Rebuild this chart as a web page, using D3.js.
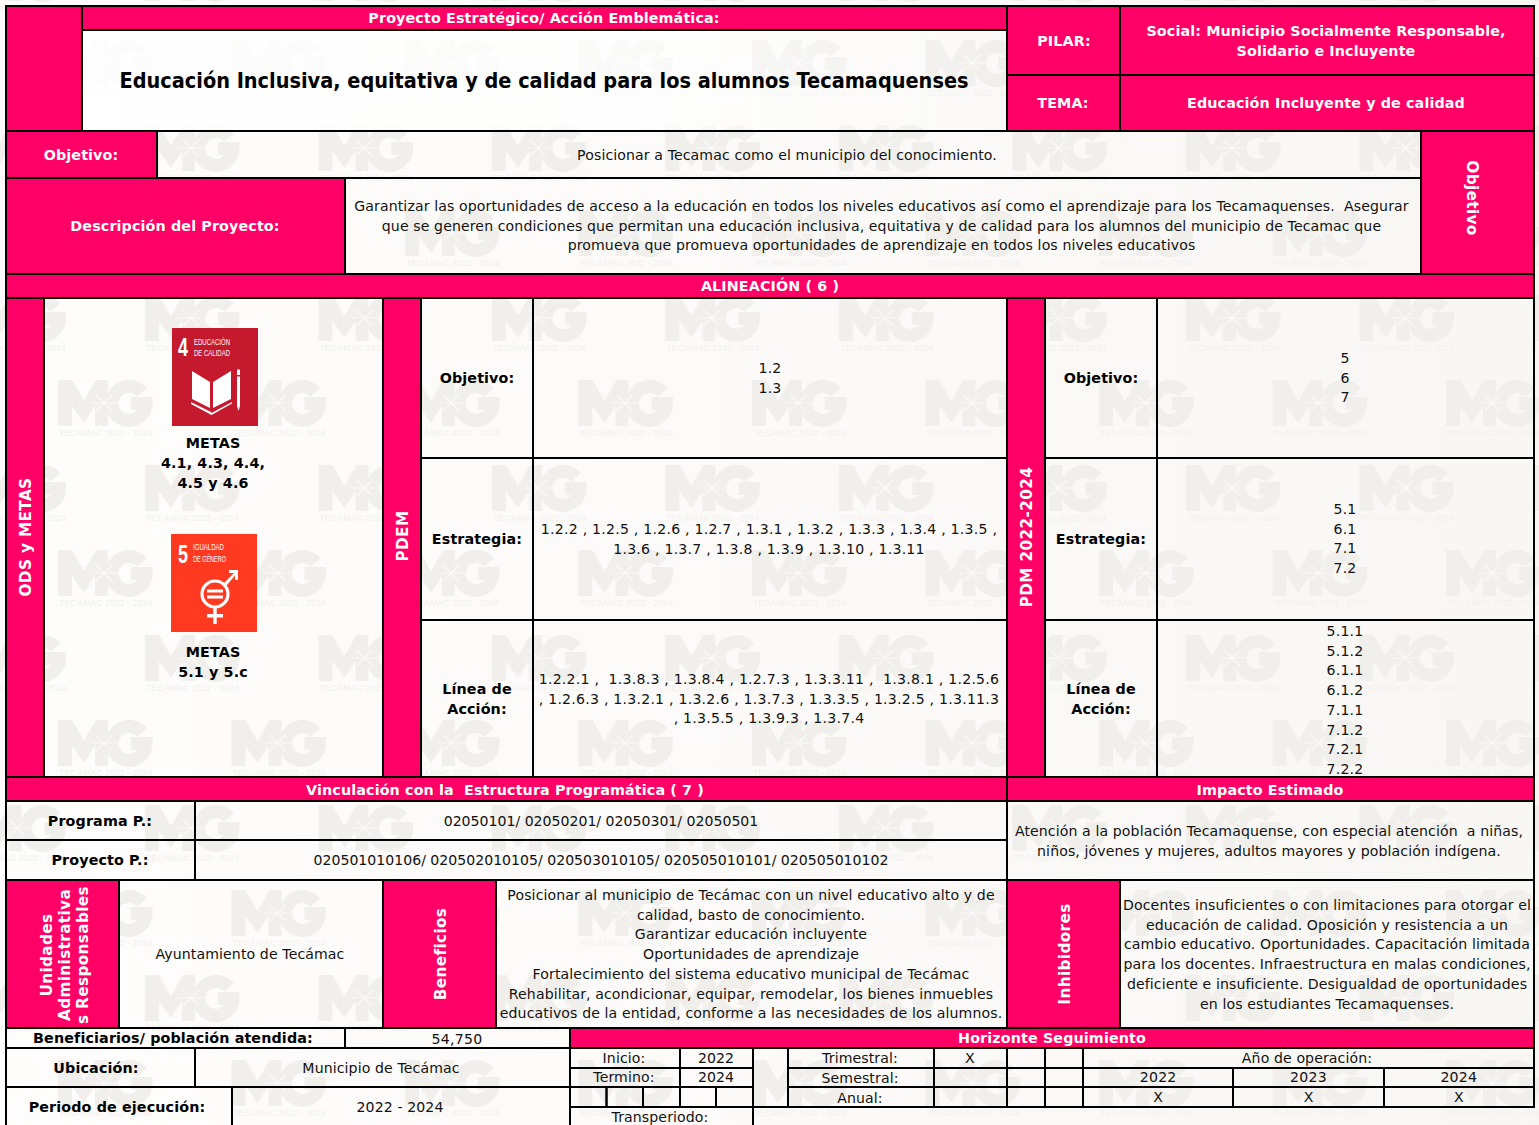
<!DOCTYPE html>
<html>
<head>
<meta charset="utf-8">
<title>Ficha de proyecto</title>
<script src="https://cdn.jsdelivr.net/npm/d3@7"></script>
<style>
  html, body { margin: 0; padding: 0; background: #fbfaf8; overflow: hidden; }
  svg { display: block; font-family: "DejaVu Sans", sans-serif; }
</style>
</head>
<body>
<div id="chart"></div>
<script>
// ---- contents of the form ----
const headerTitle = ["Proyecto Estratégico/ Acción Emblemática:"];
const projectName = ["Educación Inclusiva, equitativa y de calidad para los alumnos Tecamaquenses"];
const pilarLabel = ["PILAR:"];
const pilarText = ["Social: Municipio Socialmente Responsable,", "Solidario e Incluyente"];
const temaLabel = ["TEMA:"];
const temaText = ["Educación Incluyente y de calidad"];
const objetivoLabel = ["Objetivo:"];
const objetivoText = ["Posicionar a Tecamac como el municipio del conocimiento."];
const descLabel = ["Descripción del Proyecto:"];
const descText = [
  "Garantizar las oportunidades de acceso a la educación en todos los niveles educativos así como el aprendizaje para los Tecamaquenses.  Asegurar",
  "que se generen condiciones que permitan una educación inclusiva, equitativa y de calidad para los alumnos del municipio de Tecamac que",
  "promueva que promueva oportunidades de aprendizaje en todos los niveles educativos"
];
const alineacion = ["ALINEACIÓN ( 6 )"];
const metas4 = ["METAS", "4.1, 4.3, 4.4,", "4.5 y 4.6"];
const metas5 = ["METAS", "5.1 y 5.c"];
const estrategiaLabel = ["Estrategia:"];
const lineaLabel = ["Línea de", "Acción:"];
const pdemObjetivo = ["1.2", "1.3"];
const pdemEstrategia = [
  "1.2.2 , 1.2.5 , 1.2.6 , 1.2.7 , 1.3.1 , 1.3.2 , 1.3.3 , 1.3.4 , 1.3.5 ,",
  "1.3.6 , 1.3.7 , 1.3.8 , 1.3.9 , 1.3.10 , 1.3.11"
];
const pdemLinea = [
  "1.2.2.1 ,  1.3.8.3 , 1.3.8.4 , 1.2.7.3 , 1.3.3.11 ,  1.3.8.1 , 1.2.5.6",
  ", 1.2.6.3 , 1.3.2.1 , 1.3.2.6 , 1.3.7.3 , 1.3.3.5 , 1.3.2.5 , 1.3.11.3",
  ", 1.3.5.5 , 1.3.9.3 , 1.3.7.4"
];
const pdmObjetivo = ["5", "6", "7"];
const pdmEstrategia = ["5.1", "6.1", "7.1", "7.2"];
const pdmLinea = ["5.1.1", "5.1.2", "6.1.1", "6.1.2", "7.1.1", "7.1.2", "7.2.1", "7.2.2"];
const vinculacion = ["Vinculación con la  Estructura Programática ( 7 )"];
const impactoTitle = ["Impacto Estimado"];
const impactoText = [
  "Atención a la población Tecamaquense, con especial atención  a niñas,",
  "niños, jóvenes y mujeres, adultos mayores y población indígena."
];
const programaLabel = ["Programa P.:"];
const programaText = ["02050101/ 02050201/ 02050301/ 02050501"];
const proyectoLabel = ["Proyecto P.:"];
const proyectoText = ["020501010106/ 020502010105/ 020503010105/ 020505010101/ 020505010102"];
const responsables = ["Ayuntamiento de Tecámac"];
const beneficiosText = [
  "Posicionar al municipio de Tecámac con un nivel educativo alto y de",
  "calidad, basto de conocimiento.",
  "Garantizar educación incluyente",
  "Oportunidades de aprendizaje",
  "Fortalecimiento del sistema educativo municipal de Tecámac",
  "Rehabilitar, acondicionar, equipar, remodelar, los bienes inmuebles",
  "educativos de la entidad, conforme a las necesidades de los alumnos."
];
const inhibidoresText = [
  "Docentes insuficientes o con limitaciones para otorgar el",
  "educación de calidad. Oposición y resistencia a un",
  "cambio educativo. Oportunidades. Capacitación limitada",
  "para los docentes. Infraestructura en malas condiciones,",
  "deficiente e insuficiente. Desigualdad de oportunidades",
  "en los estudiantes Tecamaquenses."
];
const beneficiariosLabel = ["Beneficiarios/ población atendida:"];
const beneficiariosValue = ["54,750"];
const ubicacionLabel = ["Ubicación:"];
const ubicacionText = ["Municipio de Tecámac"];
const periodoLabel = ["Periodo de ejecución:"];
const periodoText = ["2022 - 2024"];
const horizonte = ["Horizonte Seguimiento"];
const operacionYears = ["2022", "2023", "2024"];
const operacionMarks = ["X", "X", "X"];

const width = 1539, height = 1125;
const pink = "#ff0066";

// grid lines of the form
const X = {
  l: 6, a: 82, objL: 157, unid: 119, prog: 195, per: 232, ods: 44, desc: 345, bene: 570,
  m: 383, pdem: 421, ben: 496, lab: 533, ini1: 606.5, ini2: 643, ini3: 680, ini4: 716, ini5: 753,
  tr0: 788, tr1: 934, c: 1007, pdm: 1045, hz: 1083, pil: 1120, lab2: 1157, y1: 1233, y2: 1384, obj: 1421, r: 1534
};
const Y = {
  t: 6, h: 30, title: 131, obj: 178, desc: 274, ali: 298, r1: 458, r2: 620, sec: 777, vin: 801, prg: 840, pry: 880,
  uni: 1028, b: 1048, b1: 1068, b2: 1087, b3: 1107, end: 1130
};

const svg = d3.select("#chart").append("svg").attr("width", width).attr("height", height);
const defs = svg.append("defs");

// paper: near-white on the left, warmer to the right
const paper = defs.append("linearGradient").attr("id", "paper");
paper.append("stop").attr("offset", "0%").attr("stop-color", "#fefdfc");
paper.append("stop").attr("offset", "55%").attr("stop-color", "#fbfaf8");
paper.append("stop").attr("offset", "100%").attr("stop-color", "#f8f7f4");
svg.append("rect").attr("width", width).attr("height", height).attr("fill", "url(#paper)");

// watermark tile: blocky M and G that touch, a small star where they meet, the caption below
const wmInk = "#f0efec";
const wm = defs.append("pattern").attr("id", "wm").attr("patternUnits", "userSpaceOnUse")
  .attr("x", 58).attr("y", 40).attr("width", 173.5).attr("height", 170);
[[0, 0], [87, 85], [-86.5, 85]].forEach(([dx, dy]) => {
  const g = wm.append("g").attr("transform", `translate(${dx},${dy})`);
  g.append("path").attr("fill", wmInk)
    .attr("d", "M0 0H14L26 21L38 0H50V46H37V26L26 43L14 26V46H0Z");
  g.append("path").attr("fill", "none").attr("stroke", wmInk).attr("stroke-width", 13)
    .attr("d", "M84 12.5A17 17 0 1 0 88 23.5H73");
  g.append("path").attr("fill", "none").attr("stroke", "#fbfaf8").attr("stroke-width", 1.2)
    .attr("d", "M33 23H60M38 15L54 31M38 31L54 15");
  g.append("text").attr("x", 47.5).attr("y", 56).attr("text-anchor", "middle").attr("fill", "#f3f2ef")
    .attr("font-family", "Liberation Sans").attr("font-weight", 700).attr("font-size", 8.5)
    .attr("textLength", 93).attr("lengthAdjust", "spacingAndGlyphs").text("TECÁMAC 2022 - 2024");
});
svg.append("rect").attr("width", width).attr("height", height).attr("fill", "url(#wm)");

// [x0, x1, y0, y1, filled]
const cells = [
  [X.l, X.a, Y.t, Y.title, 1], [X.a, X.c, Y.t, Y.h, 1], [X.a, X.c, Y.h, Y.title, 0],
  [X.c, X.pil, Y.t, 75, 1], [X.pil, X.r, Y.t, 75, 1], [X.c, X.pil, 75, Y.title, 1], [X.pil, X.r, 75, Y.title, 1],
  [X.l, X.objL, Y.title, Y.obj, 1], [X.objL, X.obj, Y.title, Y.obj, 0], [X.obj, X.r, Y.title, Y.desc, 1],
  [X.l, X.desc, Y.obj, Y.desc, 1], [X.desc, X.obj, Y.obj, Y.desc, 0],
  [X.l, X.r, Y.desc, Y.ali, 1],
  [X.l, X.ods, Y.ali, Y.sec, 1], [X.ods, X.m, Y.ali, Y.sec, 0], [X.m, X.pdem, Y.ali, Y.sec, 1],
  [X.pdem, X.lab, Y.ali, Y.r1, 0], [X.lab, X.c, Y.ali, Y.r1, 0],
  [X.pdem, X.lab, Y.r1, Y.r2, 0], [X.lab, X.c, Y.r1, Y.r2, 0],
  [X.pdem, X.lab, Y.r2, Y.sec, 0], [X.lab, X.c, Y.r2, Y.sec, 0],
  [X.c, X.pdm, Y.ali, Y.sec, 1],
  [X.pdm, X.lab2, Y.ali, Y.r1, 0], [X.lab2, X.r, Y.ali, Y.r1, 0],
  [X.pdm, X.lab2, Y.r1, Y.r2, 0], [X.lab2, X.r, Y.r1, Y.r2, 0],
  [X.pdm, X.lab2, Y.r2, Y.sec, 0], [X.lab2, X.r, Y.r2, Y.sec, 0],
  [X.l, X.c, Y.sec, Y.vin, 1], [X.c, X.r, Y.sec, Y.vin, 1],
  [X.l, X.prog, Y.vin, Y.prg, 0], [X.prog, X.c, Y.vin, Y.prg, 0],
  [X.l, X.prog, Y.prg, Y.pry, 0], [X.prog, X.c, Y.prg, Y.pry, 0],
  [X.c, X.r, Y.vin, Y.pry, 0],
  [X.l, X.unid, Y.pry, Y.uni, 1], [X.unid, X.m, Y.pry, Y.uni, 0], [X.m, X.ben, Y.pry, Y.uni, 1], [X.ben, X.c, Y.pry, Y.uni, 0],
  [X.c, X.pil, Y.pry, Y.uni, 1], [X.pil, X.r, Y.pry, Y.uni, 0],
  [X.l, X.desc, Y.uni, Y.b, 0], [X.desc, X.bene, Y.uni, Y.b, 0], [X.bene, X.r, Y.uni, Y.b, 1],
  [X.l, X.prog, Y.b, Y.b2, 0], [X.prog, X.bene, Y.b, Y.b2, 0],
  [X.l, X.per, Y.b2, Y.end, 0], [X.per, X.bene, Y.b2, Y.end, 0],
  [X.bene, X.ini3, Y.b, Y.b1, 0], [X.ini3, X.ini5, Y.b, Y.b1, 0],
  [X.bene, X.ini3, Y.b1, Y.b2, 0], [X.ini3, X.ini5, Y.b1, Y.b2, 0],
  [X.bene, X.ini1, Y.b2, Y.b3, 0], [X.ini1, X.ini2, Y.b2, Y.b3, 0], [X.ini2, X.ini3, Y.b2, Y.b3, 0],
  [X.ini3, X.ini4, Y.b2, Y.b3, 0], [X.ini4, X.ini5, Y.b2, Y.b3, 0],
  [X.bene, X.ini5, Y.b3, Y.end, 0], [X.ini5, X.tr0, Y.b, Y.b3, 0],
  [X.tr0, X.tr1, Y.b, Y.b1, 0], [X.tr1, X.c, Y.b, Y.b1, 0], [X.c, X.pdm, Y.b, Y.b1, 0], [X.pdm, X.hz, Y.b, Y.b1, 0],
  [X.tr0, X.tr1, Y.b1, Y.b2, 0], [X.tr1, X.c, Y.b1, Y.b2, 0], [X.c, X.pdm, Y.b1, Y.b2, 0], [X.pdm, X.hz, Y.b1, Y.b2, 0],
  [X.tr0, X.tr1, Y.b2, Y.b3, 0], [X.tr1, X.c, Y.b2, Y.b3, 0], [X.c, X.pdm, Y.b2, Y.b3, 0], [X.pdm, X.hz, Y.b2, Y.b3, 0],
  [X.hz, X.r, Y.b, Y.b1, 0],
  [X.hz, X.y1, Y.b1, Y.b2, 0], [X.y1, X.y2, Y.b1, Y.b2, 0], [X.y2, X.r, Y.b1, Y.b2, 0],
  [X.hz, X.y1, Y.b2, Y.b3, 0], [X.y1, X.y2, Y.b2, Y.b3, 0], [X.y2, X.r, Y.b2, Y.b3, 0]
];

// the title cell is close to pure white, fading out towards the right
const titleFade = defs.append("linearGradient").attr("id", "titleFade");
titleFade.append("stop").attr("offset", "0%").attr("stop-color", "#fff").attr("stop-opacity", 0.85);
titleFade.append("stop").attr("offset", "60%").attr("stop-color", "#fff").attr("stop-opacity", 0.7);
titleFade.append("stop").attr("offset", "100%").attr("stop-color", "#fff").attr("stop-opacity", 0);
svg.append("rect").attr("x", X.a).attr("y", Y.h).attr("width", X.c - X.a).attr("height", Y.title - Y.h).attr("fill", "url(#titleFade)");

svg.append("g").selectAll("rect").data(cells).join("rect")
  .attr("x", d => d[0]).attr("y", d => d[2])
  .attr("width", d => d[1] - d[0]).attr("height", d => d[3] - d[2])
  .attr("fill", d => d[4] ? pink : "none")
  .attr("stroke", "#000").attr("stroke-width", 2);

// block: lines, center x, first line center y, font size, bold, colour
const body = 14.1, strong = 14.3, lh = 19.7;
const blocks = [
  [headerTitle, 544, 18, strong, 1, "#fff"],
  [pilarLabel, 1064, 41, strong, 1, "#fff"],
  [pilarText, 1326, 31, strong, 1, "#fff"],
  [temaLabel, 1063, 103, strong, 1, "#fff"],
  [temaText, 1326, 103, strong, 1, "#fff"],
  [objetivoLabel, 81, 155, strong, 1, "#fff"],
  [objetivoText, 787, 155, body, 0, "#111"],
  [descLabel, 175, 226, strong, 1, "#fff"],
  [descText, 881.5, 206, body, 0, "#111"],
  [alineacion, 770, 286, strong, 1, "#fff"],
  [metas4, 213, 443, strong, 1, "#000"],
  [metas5, 213, 652, strong, 1, "#000"],
  [objetivoLabel, 477, 378, strong, 1, "#000"],
  [pdemObjetivo, 770, 368, body, 0, "#111"],
  [estrategiaLabel, 477, 539, strong, 1, "#000"],
  [pdemEstrategia, 769, 529, body, 0, "#111"],
  [lineaLabel, 477, 689, strong, 1, "#000"],
  [pdemLinea, 769, 679, body, 0, "#111"],
  [objetivoLabel, 1101, 378, strong, 1, "#000"],
  [pdmObjetivo, 1345, 358, body, 0, "#111"],
  [estrategiaLabel, 1101, 539, strong, 1, "#000"],
  [pdmEstrategia, 1345, 509, body, 0, "#111"],
  [lineaLabel, 1101, 689, strong, 1, "#000"],
  [pdmLinea, 1345, 631, body, 0, "#111"],
  [vinculacion, 505, 790, strong, 1, "#fff"],
  [impactoTitle, 1270, 790, strong, 1, "#fff"],
  [programaLabel, 100, 821, strong, 1, "#000"],
  [programaText, 601, 821, body, 0, "#111"],
  [proyectoLabel, 100, 860, strong, 1, "#000"],
  [proyectoText, 601, 860, body, 0, "#111"],
  [impactoText, 1269, 831, body, 0, "#111"],
  [responsables, 250, 954, body, 0, "#111"],
  [beneficiosText, 751, 895, body, 0, "#111"],
  [inhibidoresText, 1327, 905, body, 0, "#111"],
  [beneficiariosLabel, 173, 1038, strong, 1, "#000"],
  [beneficiariosValue, 457, 1039, body, 0, "#111"],
  [ubicacionLabel, 96, 1068, strong, 1, "#000"],
  [ubicacionText, 381, 1068, body, 0, "#111"],
  [periodoLabel, 117, 1107, strong, 1, "#000"],
  [periodoText, 400, 1107, body, 0, "#111"],
  [horizonte, 1052, 1038, strong, 1, "#fff"],
  [["Inicio:"], 624, 1058, body, 0, "#111"],
  [["2022"], 716, 1058, body, 0, "#111"],
  [["Termino:"], 624, 1077, body, 0, "#111"],
  [["2024"], 716, 1077, body, 0, "#111"],
  [["Transperiodo:"], 660, 1117, body, 0, "#111"],
  [["Trimestral:"], 860, 1058, body, 0, "#111"],
  [["X"], 970, 1058, body, 0, "#111"],
  [["Semestral:"], 860, 1078, body, 0, "#111"],
  [["Anual:"], 860, 1098, body, 0, "#111"],
  [["Año de operación:"], 1307, 1058, body, 0, "#111"]
];

// digit lists run wider in the reference than in DejaVu, the slash-separated codes do not
const tracking = (d, bold) => {
  if (bold) return 0.13;
  if (/^[\d/\s]+$/.test(d)) return 0;
  return /^[\d.,\s]+$/.test(d) ? 0.24 : 0.11;
};

const textLayer = svg.append("g").attr("text-anchor", "middle");
blocks.forEach(([lines, x, y, size, bold, color]) => {
  textLayer.selectAll(null).data(lines).enter().append("text")
    .attr("x", x).attr("y", (d, i) => y + i * lh + size * 0.36)
    .attr("font-size", size).attr("font-weight", bold ? 700 : 400).attr("fill", color)
    .attr("letter-spacing", d => tracking(d, bold))
    .style("white-space", "pre")
    .text(d => d);
});

// year columns at the bottom right
const yearX = d3.scaleBand().domain(operacionYears).range([X.hz, X.r]);
textLayer.selectAll(null).data(operacionYears).enter().append("text")
  .attr("x", d => yearX(d) + yearX.bandwidth() / 2).attr("y", 1077 + body * 0.36)
  .attr("font-size", body).attr("letter-spacing", 0.24).attr("fill", "#111").text(d => d);
textLayer.selectAll(null).data(operacionMarks).enter().append("text")
  .attr("x", (d, i) => yearX(operacionYears[i]) + yearX.bandwidth() / 2).attr("y", 1097 + body * 0.36)
  .attr("font-size", body).attr("fill", "#111").text(d => d);

// project title, squeezed to its measured width
textLayer.append("text").attr("x", 544).attr("y", 88).attr("font-size", 21.5).attr("font-weight", 700)
  .attr("textLength", 849).attr("lengthAdjust", "spacingAndGlyphs").text(projectName[0]);

// rotated headings: lines, center x of the first, center y, direction
const rotated = [
  [["ODS y METAS"], 25, 537, -90],
  [["PDEM"], 402, 536, -90],
  [["PDM 2022-2024"], 1026, 537, -90],
  [["Objetivo"], 1473, 198, 90],
  [["Unidades", "Administrativa", "s Responsables"], 46, 955, -90],
  [["Beneficios"], 440, 954, -90],
  [["Inhibidores"], 1064, 954, -90]
];
const rotSize = 15.3;
rotated.forEach(([lines, x, y, angle]) => {
  textLayer.selectAll(null).data(lines).enter().append("text")
    .attr("transform", (d, i) => `translate(${x + i * 18 + rotSize * 0.36 * (angle < 0 ? 1 : -1)},${y}) rotate(${angle})`)
    .attr("font-size", rotSize).attr("font-weight", 700).attr("letter-spacing", 0.35).attr("fill", "#fff").text(d => d);
});

// tile captions in a squeezed sans
const tileText = (g, t, x, y, size, w, bold) => g.append("text")
  .attr("x", x).attr("y", y).attr("font-family", "Liberation Sans").attr("font-size", size)
  .attr("font-weight", bold ? 700 : 400).attr("fill", "#fff")
  .attr("textLength", w).attr("lengthAdjust", "spacingAndGlyphs").text(t);

// SDG tile 4
const tile4 = svg.append("g").attr("transform", "translate(172,328)");
tile4.append("rect").attr("width", 86).attr("height", 98).attr("fill", "#c5192d");
tileText(tile4, "4", 6, 28, 26, 10, 1);
tileText(tile4, "EDUCACIÓN", 22, 17, 9, 36);
tileText(tile4, "DE CALIDAD", 22, 28, 9, 36);
// open book and pencil
tile4.append("path").attr("fill", "#fff")
  .attr("d", "M20 43 L38 54 L38 80 L20 71Z M59 43 L41 54 L41 80 L59 71Z M19 74 L39 84 L39.5 85 L60 74 L60 75.5 L39.5 87 L19 76Z");
tile4.append("path").attr("fill", "#fff").attr("d", "M65 42 a2 2 0 0 1 3 0 L68 47 L65 47Z M65 48.5 L68 48.5 L68 78 L66.5 83 L65 78Z");

// SDG tile 5
const tile5 = svg.append("g").attr("transform", "translate(171,534)");
tile5.append("rect").attr("width", 86).attr("height", 98).attr("fill", "#ff3a21");
tileText(tile5, "5", 7, 29, 26, 10, 1);
tileText(tile5, "IGUALDAD", 22, 16, 9, 31);
tileText(tile5, "DE GÉNERO", 22, 28, 9, 33);
// gender symbol: ring, equals sign, cross below, arrow to the upper right
tile5.append("circle").attr("cx", 44).attr("cy", 60).attr("r", 13).attr("fill", "none").attr("stroke", "#fff").attr("stroke-width", 3.2);
tile5.append("path").attr("fill", "#fff")
  .attr("d", "M36 55.5H52V58.5H36Z M36 61.5H52V64.5H36Z M42.3 73H45.7V80H52V83.5H45.7V90H42.3V83.5H36V80H42.3Z M53 49 L63 39 L58 39 L58 36 L67 36 L67 46 L64 46 L64 41.5 L55.5 51.5Z");
</script>
</body>
</html>
